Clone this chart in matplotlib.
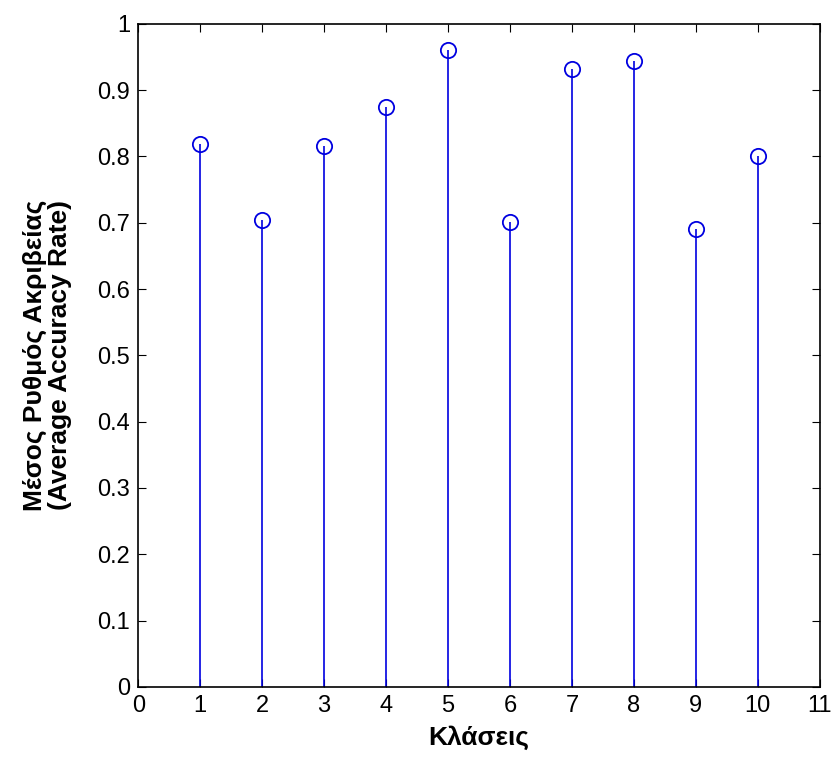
import matplotlib
matplotlib.use("Agg")
from matplotlib import pyplot as plt

classes = [1, 2, 3, 4, 5, 6, 7, 8, 9, 10]
accuracy = [0.819, 0.704, 0.815, 0.875, 0.960, 0.701, 0.932, 0.944, 0.690, 0.800]
xticks = list(range(0, 12))
yticks = [0, 0.1, 0.2, 0.3, 0.4, 0.5, 0.6, 0.7, 0.8, 0.9, 1]
ytick_labels = ["0", "0.1", "0.2", "0.3", "0.4", "0.5", "0.6", "0.7", "0.8", "0.9", "1"]

plt.rcParams['font.family'] = ['Liberation Sans', 'DejaVu Sans']

fig = plt.figure(figsize=(8.33, 7.65), dpi=100)
ax = fig.add_axes([0.166, 0.102, 0.818, 0.867])

markers, stems, base = ax.stem(classes, accuracy, linefmt='-', markerfmt='o', basefmt=' ')
stems.set_color('#0000e0')
stems.set_linewidth(1.2)
markers.set_markerfacecolor('none')
markers.set_markeredgecolor('#0000e0')
markers.set_markersize(11)
markers.set_markeredgewidth(1.3)

ax.set_xlim(0, 11)
ax.set_ylim(0, 1)
ax.set_xticks(xticks)
ax.set_yticks(yticks)
ax.set_yticklabels(ytick_labels)
ax.tick_params(direction='in', top=True, right=True, length=6, labelsize=17, pad=6)
for s in ax.spines.values():
    s.set_linewidth(1.2)

ax.set_xlabel("Κλάσεις", fontsize=19, fontweight='bold', labelpad=6)
ax.set_ylabel("Μέσος Ρυθμός Ακριβείας\n(Average Accuracy Rate)", fontsize=19,
              fontweight='bold', labelpad=18, linespacing=1.05)

fig.savefig("out.png")
